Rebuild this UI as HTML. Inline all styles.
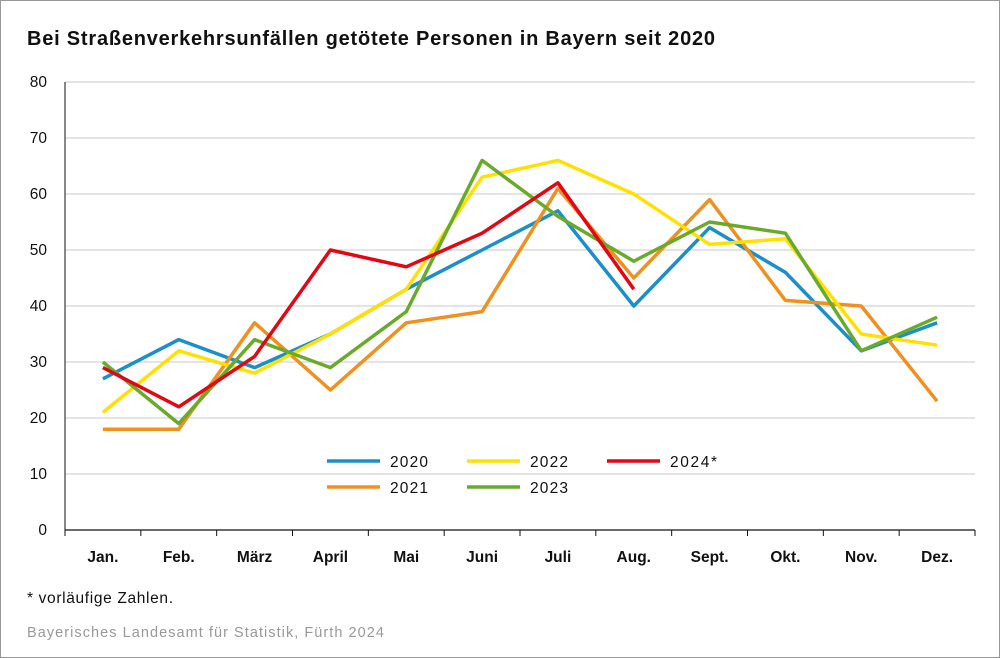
<!DOCTYPE html>
<html><head><meta charset="utf-8"><style>
body{margin:0;background:#fff;}
svg{display:block;font-family:"Liberation Sans",Arial,sans-serif;}
</style></head><body>
<svg id="c" width="1000" height="658" viewBox="0 0 1000 658" xmlns="http://www.w3.org/2000/svg">
<rect x="0.5" y="0.5" width="999" height="657" fill="#fff" stroke="#9a9a9a"/>
<text x="27" y="45" font-size="20" font-weight="bold" fill="#111" textLength="688" lengthAdjust="spacing">Bei Straßenverkehrsunfällen getötete Personen in Bayern seit 2020</text>
<g id="grid"></g>
<g id="lines" fill="none" stroke-width="3.5" stroke-linejoin="round"></g>
<g font-size="15.5" fill="#111">
<line x1="327" y1="461" x2="380" y2="461" stroke="#1a8fc9" stroke-width="3.5"/><text x="390" y="467" textLength="38">2020</text>
<line x1="467" y1="461" x2="520" y2="461" stroke="#ffe000" stroke-width="3.5"/><text x="530" y="467" textLength="38">2022</text>
<line x1="607" y1="461" x2="660" y2="461" stroke="#e30613" stroke-width="3.5"/><text x="670" y="467" textLength="47">2024*</text>
<line x1="327" y1="487" x2="380" y2="487" stroke="#f0901e" stroke-width="3.5"/><text x="390" y="493" textLength="38">2021</text>
<line x1="467" y1="487" x2="520" y2="487" stroke="#6aaa2a" stroke-width="3.5"/><text x="530" y="493" textLength="38">2023</text>
</g>
<text x="27" y="603" font-size="15.5" fill="#111" textLength="146" lengthAdjust="spacing">* vorläufige Zahlen.</text>
<text x="27" y="637" font-size="14.5" fill="#999" textLength="357" lengthAdjust="spacing">Bayerisches Landesamt für Statistik, Fürth 2024</text>
</svg>
<script>
var ns="http://www.w3.org/2000/svg",g=document.getElementById("grid"),L=document.getElementById("lines");
function el(p,t,a,txt){var e=document.createElementNS(ns,t);for(var k in a)e.setAttribute(k,a[k]);if(txt)e.textContent=txt;p.appendChild(e);return e;}
function Y(v){return 530-5.6*v;}
var x0=65,x1=975,w=(x1-x0)/12;
for(var v=10;v<=80;v+=10)el(g,"line",{x1:x0,x2:x1,y1:Y(v),y2:Y(v),stroke:"#c8c8c8","stroke-width":1});
for(var v=0;v<=80;v+=10)el(g,"text",{x:47,y:Y(v)+5,"font-size":15.5,"text-anchor":"end",fill:"#111"},""+v);
el(g,"line",{x1:x0,x2:x0,y1:Y(0),y2:Y(80),stroke:"#111","stroke-width":1});
el(g,"line",{x1:x0,x2:x1,y1:530,y2:530,stroke:"#111","stroke-width":1.2});
var m=["Jan.","Feb.","März","April","Mai","Juni","Juli","Aug.","Sept.","Okt.","Nov.","Dez."];
for(var i=0;i<=12;i++)el(g,"line",{x1:x0+i*w,x2:x0+i*w,y1:530,y2:536,stroke:"#111","stroke-width":1});
for(var i=0;i<12;i++)el(g,"text",{x:x0+(i+.5)*w,y:562,"font-size":15.5,"font-weight":"bold","text-anchor":"middle",fill:"#111"},m[i]);
var S=[["#1a8fc9",[27,34,29,35,43,50,57,40,54,46,32,37]],["#f0901e",[18,18,37,25,37,39,61,45,59,41,40,23]],["#ffe000",[21,32,28,35,43,63,66,60,51,52,35,33]],["#6aaa2a",[30,19,34,29,39,66,56,48,55,53,32,38]],["#e30613",[29,22,31,50,47,53,62,43]]];
S.forEach(function(s){el(L,"polyline",{stroke:s[0],points:s[1].map(function(v,i){return (x0+(i+.5)*w).toFixed(1)+","+Y(v).toFixed(1)}).join(" ")});});
</script>
</body></html>
